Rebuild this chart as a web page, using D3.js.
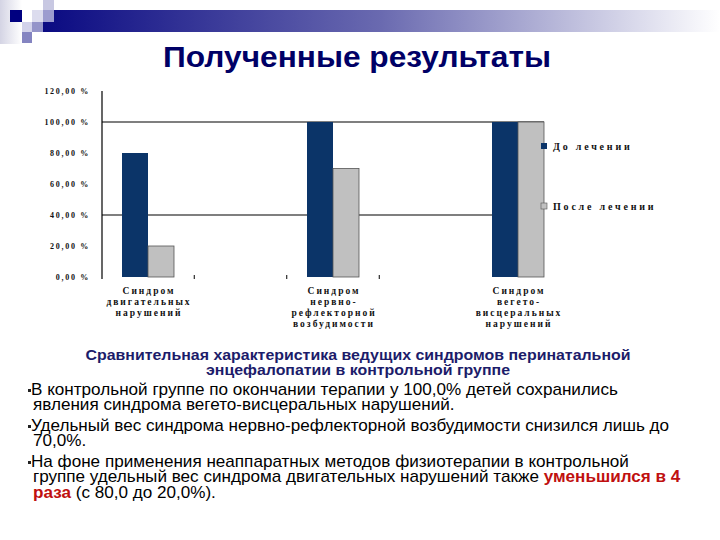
<!DOCTYPE html>
<html><head><meta charset="utf-8">
<script src="https://cdn.jsdelivr.net/npm/d3@7"></script>
<style>body{margin:0;background:#fff}svg{display:block}</style>
</head><body>
<script>
const categories = ["Синдром двигательных нарушений", "Синдром нервно-рефлекторной возбудимости", "Синдром вегето-висцеральных нарушений"];
const categoryLines = [["Синдром","двигательных","нарушений"],["Синдром","нервно-","рефлекторной","возбудимости"],["Синдром","вегето-","висцеральных","нарушений"]];
const seriesNames = ["До лечении", "После лечении"];
const beforeValues = [80, 100, 100];
const afterValues = [20, 70, 100];
const yTickValues = [0, 20, 40, 60, 80, 100, 120];
const gridValues = [40, 100];
const colors = ["#0b3468", "#c0c0c0"];

const W = 720, H = 540;
const svg = d3.select("body").append("svg").attr("width", W).attr("height", H);

// decoration
const defs = svg.append("defs");
const g1 = defs.append("linearGradient").attr("id","bar").attr("x1","0").attr("x2","1");
g1.append("stop").attr("offset","0").attr("stop-color","#0a0a82");
g1.append("stop").attr("offset","0.5").attr("stop-color","#6a6ab0");
g1.append("stop").attr("offset","1").attr("stop-color","#ffffff");
const g2 = defs.append("linearGradient").attr("id","lg").attr("x1","0").attr("x2","1");
g2.append("stop").attr("offset","0").attr("stop-color","#d4d4e4");
g2.append("stop").attr("offset","1").attr("stop-color","#ffffff");
svg.append("rect").attr("x",0).attr("y",0).attr("width",22).attr("height",44).attr("fill","url(#lg)");
svg.append("rect").attr("x",43).attr("y",10).attr("width",677).attr("height",22).attr("fill","url(#bar)");
const squares = [[10,10,12,12,"#000080"],[43,0,11,10,"#c8c8e2"],[32,10,11,12,"#dcdcee"],[43,10,11,12,"#9c9ccf"],[22,22,10,10,"#d2d2ea"],[32,22,11,10,"#9494c9"],[22,32,10,11,"#8484c1"]];
svg.selectAll("rect.sq").data(squares).join("rect").attr("class","sq")
  .attr("x",d=>d[0]).attr("y",d=>d[1]).attr("width",d=>d[2]).attr("height",d=>d[3]).attr("fill",d=>d[4]);

// title
svg.append("text").attr("x",357).attr("y",67).attr("text-anchor","middle")
  .attr("font-family","Liberation Sans, Arial, sans-serif").attr("font-weight","bold")
  .attr("font-size",29).attr("textLength",388).attr("lengthAdjust","spacingAndGlyphs")
  .attr("fill","#000066").text("Полученные результаты");

// chart
const y = d3.scaleLinear().domain([0,120]).range([277,91]);
const x = d3.scaleBand().domain(categories).range([122,544]).paddingInner(133/185).paddingOuter(0);
const xs = d3.scaleBand().domain(seriesNames).range([0, x.bandwidth()]);
const step = x.step();
const serif = "Liberation Serif, Times New Roman, serif";

svg.append("g").selectAll("line").data(gridValues).join("line")
  .attr("x1",102).attr("x2",544).attr("y1",d=>y(d)).attr("y2",d=>y(d))
  .attr("stroke","#000").attr("stroke-width",1.2);

const yAxis = d3.axisLeft(y).tickValues(yTickValues).tickSize(0).tickPadding(12)
  .tickFormat(d => d3.format(".2f")(d).replace(".", ",") + " %");
const ya = svg.append("g").attr("transform","translate(102,0)").call(yAxis);
ya.select(".domain").attr("d","M0,"+y(120)+"V"+(y(0)+2)).attr("stroke","#000").attr("stroke-width",1.2);
ya.selectAll("text").attr("font-family",serif).attr("font-weight","bold").attr("font-size",8)
  .attr("letter-spacing",1.7).attr("fill","#111");

const data = categories.map((c,i)=>({cat:c, vals:[{s:seriesNames[0],v:beforeValues[i]},{s:seriesNames[1],v:afterValues[i]}]}));
const grp = svg.append("g").selectAll("g").data(data).join("g").attr("transform",d=>`translate(${x(d.cat)},0)`);
grp.selectAll("rect").data(d=>d.vals).join("rect")
  .attr("x",d=>xs(d.s)).attr("width",xs.bandwidth())
  .attr("y",d=>y(d.v)).attr("height",d=>y(0)-y(d.v))
  .attr("fill",(d,i)=>colors[i])
  .attr("stroke",(d,i)=>i===1?"#555":"none").attr("stroke-width",0.8);

// x ticks
const c0 = x(categories[0]) + x.bandwidth()/2, c1 = x(categories[1]) + x.bandwidth()/2;
const xTicks = [c0 + step/4, c1 - step/4, c1 + step/4];
svg.append("g").selectAll("line").data(xTicks).join("line")
  .attr("x1",d=>d).attr("x2",d=>d).attr("y1",y(0)-2).attr("y2",y(0)+2).attr("stroke","#000");

// category labels
const cl = svg.append("g").selectAll("text").data(categories).join("text")
  .attr("text-anchor","middle").attr("font-family",serif).attr("font-weight","bold")
  .attr("font-size",9.5).attr("letter-spacing",2).attr("fill","#111");
cl.each(function(d,i){
  const t = d3.select(this);
  categoryLines[i].forEach((ln,j)=>{
    t.append("tspan").attr("x", x(d)+x.bandwidth()/2+1).attr("y", 294 + j*11).text(ln);
  });
});

// legend
const leg = svg.append("g").selectAll("g").data(seriesNames).join("g")
  .attr("transform",(d,i)=>`translate(541,${143 + i*60})`);
leg.append("rect").attr("width",6).attr("height",6).attr("fill",(d,i)=>colors[i])
  .attr("stroke",(d,i)=>i===1?"#555":"none").attr("stroke-width",0.6);
leg.append("text").attr("x",12).attr("y",7).attr("font-family",serif).attr("font-weight","bold")
  .attr("font-size",10).attr("letter-spacing",2.8).attr("fill","#111").text(d=>d);

// caption text
const sans = "Liberation Sans, Arial, sans-serif";
const sub = ["Сравнительная характеристика ведущих синдромов перинатальной","энцефалопатии в контрольной группе"];
svg.append("g").selectAll("text").data(sub).join("text")
  .attr("x",358).attr("y",(d,i)=>360+i*15).attr("text-anchor","middle")
  .attr("font-family",sans).attr("font-weight","bold").attr("font-size",15).attr("textLength",(d,i)=>i?304:545)
  .attr("lengthAdjust","spacingAndGlyphs").attr("fill","#1c1c6a").text(d=>d);

const bodyLines = [
  {y:395, bullet:true, parts:[["В контрольной группе по окончании терапии у 100,0% детей сохранились",0]]},
  {y:410, parts:[["явления синдрома вегето-висцеральных нарушений.",0]]},
  {y:431, bullet:true, parts:[["Удельный вес синдрома нервно-рефлекторной возбудимости снизился лишь до",0]]},
  {y:446, parts:[["70,0%.",0]]},
  {y:467, bullet:true, parts:[["На фоне применения неаппаратных методов физиотерапии в контрольной",0]]},
  {y:482, parts:[["группе удельный вес синдрома двигательных нарушений также ",0],["уменьшился в 4",1]]},
  {y:498, parts:[["раза",1],[" (с 80,0 до 20,0%).",0]]}
];
const sx = 1.07;
const body = svg.append("g").attr("transform",`scale(${sx},1)`);
bodyLines.forEach(l=>{
  if(l.bullet) body.append("rect").attr("x",28/sx).attr("y",l.y-6).attr("width",3/sx).attr("height",3).attr("fill","#222");
  const t = body.append("text").attr("x", (l.bullet?31:33)/sx).attr("y",l.y)
    .attr("font-family",sans).attr("font-size",16).attr("fill","#000");
  l.parts.forEach(p=>{
    t.append("tspan").attr("font-weight",p[1]?"bold":"normal").attr("fill",p[1]?"#c01010":"#000").text(p[0]);
  });
});
</script>
</body></html>
